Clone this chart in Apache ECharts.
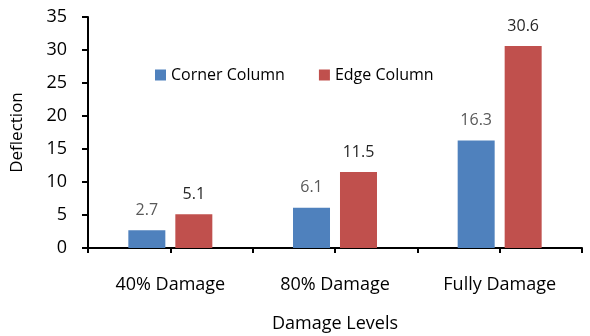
<!DOCTYPE html>
<html>
<head>
<meta charset="utf-8">
<script src="https://cdn.jsdelivr.net/npm/echarts@6/dist/echarts.min.js"></script>
<style>
  html, body { margin: 0; padding: 0; background: #fff; }
  #chart { width: 590px; height: 336px; }
</style>
</head>
<body>
<div id="chart"></div>
<script>
// damage levels and deflection values
var categories = ['40% Damage', '80% Damage', 'Fully Damage']
var cornerColumn = [2.7, 6.1, 16.3]
var edgeColumn = [5.1, 11.5, 30.6]

var font = 'Open Sans'
var myChart = echarts.init(document.getElementById('chart'))
var option = {
  animation: false,
  textStyle: { fontFamily: font },
  grid: { left: 88, right: 8, top: 17, bottom: 88, outerBoundsMode: 'none' },
  legend: {
    left: 150,
    top: 62,
    padding: 5,
    itemWidth: 11,
    itemHeight: 11,
    itemGap: 34,
    icon: 'rect',
    textStyle: { fontSize: 16, color: '#000', fontFamily: font },
    data: ['Corner Column', 'Edge Column']
  },
  xAxis: [
    {
      type: 'category',
      data: categories,
      name: 'Damage Levels',
      nameLocation: 'middle',
      nameGap: 67,
      nameTextStyle: { fontSize: 18, color: '#000' },
      axisLine: { lineStyle: { color: '#000', width: 2 } },
      axisTick: { show: true, length: 5, lineStyle: { color: '#000', width: 2 } },
      axisLabel: { fontSize: 18, color: '#000', margin: 28 }
    },
    {
      // extra ticks at category centres
      type: 'category',
      data: categories,
      position: 'bottom',
      axisLine: { show: false },
      axisTick: { show: true, alignWithLabel: true, length: 5, lineStyle: { color: '#000', width: 2 } },
      axisLabel: { show: false }
    }
  ],
  yAxis: {
    type: 'value',
    min: 0,
    max: 35,
    interval: 5,
    name: 'Deflection',
    nameLocation: 'middle',
    nameGap: 62,
    nameTextStyle: { fontSize: 17, color: '#000' },
    splitLine: { show: false },
    axisLine: { show: true, lineStyle: { color: '#000', width: 2 } },
    axisTick: { show: true, length: 6, lineStyle: { color: '#000', width: 2 } },
    axisLabel: { fontSize: 18, color: '#000', margin: 21 }
  },
  series: [
    {
      name: 'Corner Column',
      type: 'bar',
      data: cornerColumn,
      barWidth: 37,
      barGap: '27%',
      itemStyle: { color: '#4F81BD' },
      label: { show: true, position: 'top', distance: 12, fontSize: 16, color: '#595959' }
    },
    {
      name: 'Edge Column',
      type: 'bar',
      data: edgeColumn,
      barWidth: 37,
      itemStyle: { color: '#C0504D' },
      label: { show: true, position: 'top', distance: 12, fontSize: 16, color: '#262626' }
    }
  ]
}
myChart.setOption(option)
</script>
</body>
</html>
